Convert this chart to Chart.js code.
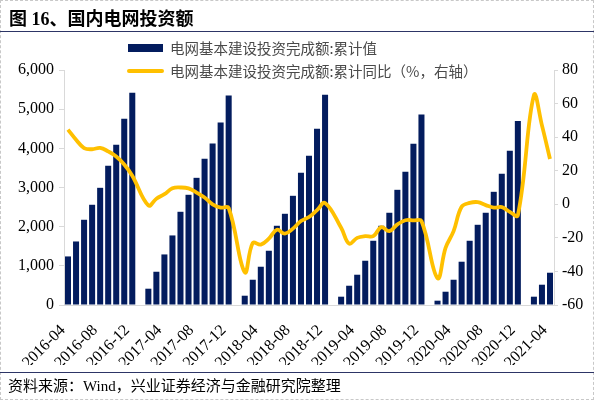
<!DOCTYPE html>
<html>
<head>
<meta charset="utf-8">
<script src="https://cdn.jsdelivr.net/npm/chart.js@4/dist/chart.umd.min.js"></script>
<style>
  html, body { margin: 0; padding: 0; background: #fff; }
  #wrap { position: relative; width: 594px; height: 403px; overflow: hidden; }
  #frame { position: absolute; left: 0; top: 0; width: 592px; height: 398px; border: 1px dashed #c8c8c8; }
  #title { position: absolute; left: 9px; top: 4px; font: bold 18px "Liberation Serif", "Noto Sans CJK SC", serif; color: #000; white-space: nowrap; }
  .rule { position: absolute; left: 0; width: 594px; height: 0; border-top: 1.5px solid #2d3566; }
  #source { position: absolute; left: 8px; top: 374px; font: 15px "Liberation Serif", "Noto Sans CJK SC", serif; color: #000; white-space: nowrap; }
  canvas { position: absolute; left: 0; top: 0; }
</style>
</head>
<body>
<div id="wrap">
  <canvas id="c" width="594" height="403"></canvas>
  <div id="frame"></div>
  <div id="title">图 16、国内电网投资额</div>
  <div class="rule" style="top:31px"></div>
  <div class="rule" style="top:372px"></div>
  <div id="source">资料来源：Wind，兴业证券经济与金融研究院整理</div>
</div>
<script>
// Categories (monthly, 2016-04 .. 2021-04)
const months = [
  '2016-04','2016-05','2016-06','2016-07','2016-08','2016-09','2016-10','2016-11','2016-12',
  '2017-01','2017-02','2017-03','2017-04','2017-05','2017-06','2017-07','2017-08','2017-09','2017-10','2017-11','2017-12',
  '2018-01','2018-02','2018-03','2018-04','2018-05','2018-06','2018-07','2018-08','2018-09','2018-10','2018-11','2018-12',
  '2019-01','2019-02','2019-03','2019-04','2019-05','2019-06','2019-07','2019-08','2019-09','2019-10','2019-11','2019-12',
  '2020-01','2020-02','2020-03','2020-04','2020-05','2020-06','2020-07','2020-08','2020-09','2020-10','2020-11','2020-12',
  '2021-01','2021-02','2021-03','2021-04'
];
// 电网基本建设投资完成额:累计值 (亿元)
const cumValue = [
  1240, 1622, 2176, 2559, 2992, 3553, 4089, 4753, 5416,
  null, 416, 849, 1291, 1776, 2380, 2814, 3247, 3732, 4122, 4658, 5347,
  null, 237, 645, 977, 1385, 2023, 2329, 2788, 3375, 3809, 4497, 5365,
  null, 212, 492, 773, 1130, 1640, 2023, 2355, 2941, 3400, 4114, 4864,
  null, 110, 339, 645, 1105, 1640, 2048, 2355, 2890, 3349, 3936, 4701,
  null, 212, 518, 824
];
// 电网基本建设投资完成额:累计同比 (%)
const cumYoY = [
  44.5, 38.5, 33.5, 32.8, 33.6, 31.5, 28.5, 23.7, 17,
  null, -0.7, 3.3, 6, 9.5, 10, 9.5, 7, 4, 0, -2, -2.2,
  null, -40.5, -23, -24, -20.5, -15.2, -17.5, -14.5, -10, -7.6, -3.5, 0.8,
  null, -14, -23.5, -20, -19, -19, -13.6, -16, -12, -9.5, -9.6, -10,
  null, -44, -26, -16, -1.5, 0.8, 1.3, -0.5, -2, -1.7, -4.5, -6.6,
  null, 65, 47, 27
];
const leftTicks = [0, 1000, 2000, 3000, 4000, 5000, 6000];
const rightTicks = [-60, -40, -20, 0, 20, 40, 60, 80];
const seriesNames = ['电网基本建设投资完成额:累计值', '电网基本建设投资完成额:累计同比（%，右轴）'];

const NAVY = '#031c5e';
const GOLD = '#ffc000';
const AXIS = '#d9d9d9';
const tickFont = { family: '"Liberation Serif", "Times New Roman", serif', size: 16 };

const legendPlugin = {
  id: 'customLegend',
  afterDraw(chart) {
    const ctx = chart.ctx;
    ctx.save();
    ctx.font = '14.5px "Noto Sans CJK SC", sans-serif';
    ctx.textBaseline = 'middle';
    ctx.textAlign = 'left';
    // bar item
    ctx.fillStyle = chart.data.datasets[0].backgroundColor;
    ctx.fillRect(128, 44, 35, 8);
    ctx.fillStyle = '#4a4a4a';
    ctx.fillText(chart.data.datasets[0].label, 170, 48);
    // line item
    ctx.strokeStyle = chart.data.datasets[1].borderColor;
    ctx.lineWidth = 4;
    ctx.lineCap = 'round';
    ctx.beginPath();
    ctx.moveTo(129, 71);
    ctx.lineTo(162, 71);
    ctx.stroke();
    ctx.fillText(chart.data.datasets[1].label, 170, 71);
    ctx.restore();
  }
};

new Chart(document.getElementById('c'), {
  type: 'bar',
  data: {
    labels: months,
    datasets: [
      {
        type: 'bar',
        label: seriesNames[0],
        data: cumValue,
        backgroundColor: NAVY,
        yAxisID: 'y',
        barPercentage: 0.75,
        categoryPercentage: 1.0,
        order: 2
      },
      {
        type: 'line',
        label: seriesNames[1],
        data: cumYoY,
        borderColor: GOLD,
        backgroundColor: GOLD,
        borderWidth: 3.8,
        pointRadius: 0,
        tension: 0.4,
        spanGaps: true,
        yAxisID: 'y1',
        order: 1
      }
    ]
  },
  options: {
    responsive: false,
    animation: false,
    devicePixelRatio: 1,
    layout: { padding: { top: 70, bottom: 38, left: 0, right: 0 } },
    plugins: {
      legend: { display: false },
      tooltip: { enabled: false }
    },
    scales: {
      x: {
        offset: true,
        grid: { display: false },
        border: { display: true, color: AXIS, width: 1 },
        ticks: {
          autoSkip: false,
          maxRotation: 45,
          minRotation: 45,
          padding: 8,
          labelOffset: -5,
          color: '#000',
          font: { family: '"Liberation Serif", "Times New Roman", serif', size: 16 },
          callback: function (v, i) { return i % 4 === 0 ? months[i] : ''; }
        },
        afterFit: function (s) { s.height = 60; }
      },
      y: {
        position: 'left',
        min: 0,
        max: 6000,
        afterBuildTicks: function (s) { s.ticks = leftTicks.map(v => ({ value: v })); },
        grid: { display: true, drawOnChartArea: false, drawTicks: true, tickLength: 5, color: AXIS },
        border: { display: true, color: AXIS, width: 1 },
        ticks: {
          padding: 5,
          color: '#000',
          font: tickFont,
          callback: function (v) { return v.toLocaleString('en-US'); }
        },
        afterFit: function (s) { s.width = 64; }
      },
      y1: {
        position: 'right',
        min: -60,
        max: 80,
        afterBuildTicks: function (s) { s.ticks = rightTicks.map(v => ({ value: v })); },
        grid: { display: true, drawOnChartArea: false, drawTicks: true, tickLength: 4, color: AXIS },
        border: { display: true, color: AXIS, width: 1 },
        ticks: {
          padding: 4,
          color: '#000',
          font: tickFont,
          callback: function (v) { return String(v); }
        },
        afterFit: function (s) { s.width = 40; }
      }
    }
  },
  plugins: [legendPlugin]
});
</script>
</body>
</html>
